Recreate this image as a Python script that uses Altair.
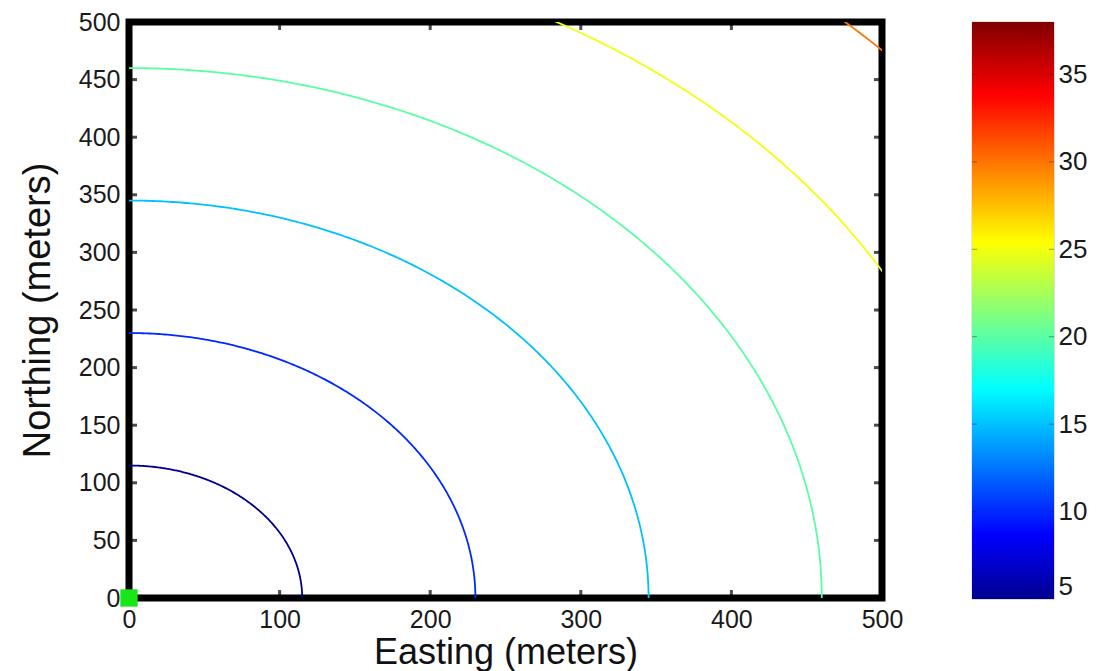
import altair as alt
import numpy as np
import pandas as pd

# ---- data ----
levels = [5, 10, 15, 20, 25, 30]            # contour level values
radii = [115, 230, 345, 460, 575, 690]      # contour radius (m) from the source
x_ticks = [0, 100, 200, 300, 400, 500]
y_ticks = [0, 50, 100, 150, 200, 250, 300, 350, 400, 450, 500]
x_inner_ticks = [100, 200, 300, 400]
y_inner_ticks = [50, 100, 150, 200, 250, 300, 350, 400, 450]
cbar_ticks = [5, 10, 15, 20, 25, 30, 35]
cbar_inner_ticks = [10, 15, 20, 25, 30, 35]
cbar_lo, cbar_hi = 5, 38
source_x = [0]
source_y = [0]

# jet colormap stops
jet_offsets = [0.0, 0.111, 0.365, 0.619, 0.873, 1.0]
jet_colors = ["#000090", "#0000ff", "#00ffff", "#ffff00", "#ff0000", "#800000"]

FONT = "Liberation Sans"

# ---- contour lines (quarter circles around the source) ----
rows = []
angles = np.linspace(0, np.pi / 2, 241)
for lvl, r in zip(levels, radii):
    for k, a in enumerate(angles):
        rows.append({"x": r * np.cos(a), "y": r * np.sin(a), "level": lvl, "i": k})
arcs = pd.DataFrame(rows)

jet_domain = [cbar_lo + f * (cbar_hi - cbar_lo) for f in jet_offsets]
jet_scale = alt.Scale(domain=jet_domain, range=jet_colors, type="linear", interpolate="rgb")

xs = alt.Scale(domain=[0, 500], nice=False, zero=False)
ys = alt.Scale(domain=[0, 500], nice=False, zero=False)

x_axis = alt.Axis(values=x_ticks, title="Easting (meters)", grid=False, domain=False,
                  tickSize=0, labelFontSize=25, labelPadding=9, labelFlush=False,
                  labelColor="#1a1a1a", titleFontSize=36, titleFontWeight="normal",
                  titlePadding=3, titleColor="#111")
y_axis = alt.Axis(values=y_ticks, title="Northing (meters)", grid=False, domain=False,
                  tickSize=0, labelFontSize=25, labelPadding=9, labelFlush=False,
                  labelColor="#1a1a1a", titleFontSize=38, titleFontWeight="normal",
                  titlePadding=21, titleColor="#111")

lines = alt.Chart(arcs).mark_line(clip=True, strokeWidth=1.8).encode(
    x=alt.X("x:Q", scale=xs, axis=x_axis),
    y=alt.Y("y:Q", scale=ys, axis=y_axis),
    detail="level:N",
    order="i:Q",
    color=alt.Color("level:Q", scale=jet_scale, legend=None),
)

xt = pd.DataFrame({"x": x_inner_ticks * 2, "y": [0] * len(x_inner_ticks) + [500] * len(x_inner_ticks)})
yt = pd.DataFrame({"y": y_inner_ticks * 2, "x": [0] * len(y_inner_ticks) + [500] * len(y_inner_ticks)})

xticks_layer = alt.Chart(xt).mark_tick(orient="vertical", size=16, thickness=3, color="black", clip=True).encode(
    x=alt.X("x:Q", scale=xs), y=alt.Y("y:Q", scale=ys))
yticks_layer = alt.Chart(yt).mark_tick(orient="horizontal", size=16, thickness=3, color="black", clip=True).encode(
    x=alt.X("x:Q", scale=xs), y=alt.Y("y:Q", scale=ys))

src = pd.DataFrame({"x": source_x, "y": source_y})
source_layer = alt.Chart(src).mark_square(size=300, color="#19e619", opacity=1).encode(
    x=alt.X("x:Q", scale=xs), y=alt.Y("y:Q", scale=ys))

main = alt.layer(lines, xticks_layer, yticks_layer, source_layer).properties(
    width=753, height=576,
    view=alt.ViewBackground(stroke="black", strokeWidth=7),
)

# ---- colorbar ----
cb = pd.DataFrame({"lo": [cbar_lo], "hi": [cbar_hi], "x0": [0], "x1": [1]})
grad = alt.LinearGradient(
    gradient="linear",
    stops=[alt.GradientStop(offset=o, color=c) for o, c in zip(jet_offsets, jet_colors)],
    x1=0, x2=0, y1=1, y2=0,
)
cys = alt.Scale(domain=[cbar_lo, cbar_hi], nice=False, zero=False)
cxs = alt.Scale(domain=[0, 1], nice=False)
cbar = alt.Chart(cb).mark_rect(fill=grad).encode(
    x=alt.X("x0:Q", scale=cxs, axis=None),
    x2="x1:Q",
    y=alt.Y("lo:Q", scale=cys, axis=alt.Axis(orient="right", values=cbar_ticks, title=None,
                                             grid=False, domain=False, tickSize=0,
                                             labelFontSize=26, labelPadding=4, labelFlush=True,
                                             labelColor="#1a1a1a")),
    y2="hi:Q",
)
ct = pd.DataFrame({"y": cbar_inner_ticks * 2, "x": [0] * len(cbar_inner_ticks) + [1] * len(cbar_inner_ticks)})
cticks = alt.Chart(ct).mark_tick(orient="horizontal", size=10, thickness=1, color="#222",
                                 opacity=0.45, clip=True).encode(
    x=alt.X("x:Q", scale=cxs, axis=None), y=alt.Y("y:Q", scale=cys))

colorbar = alt.layer(cbar, cticks).properties(
    width=82, height=577,
    view=alt.ViewBackground(stroke="#9a9a9a", strokeWidth=0.6),
)

chart = alt.hconcat(main, colorbar, spacing=90, bounds="flush").properties(
    padding={"left": 15, "top": 6, "right": 5, "bottom": 0},
    background="white",
).configure(font=FONT)

chart.save("out.html", embed_options={"renderer": "svg", "actions": False})
